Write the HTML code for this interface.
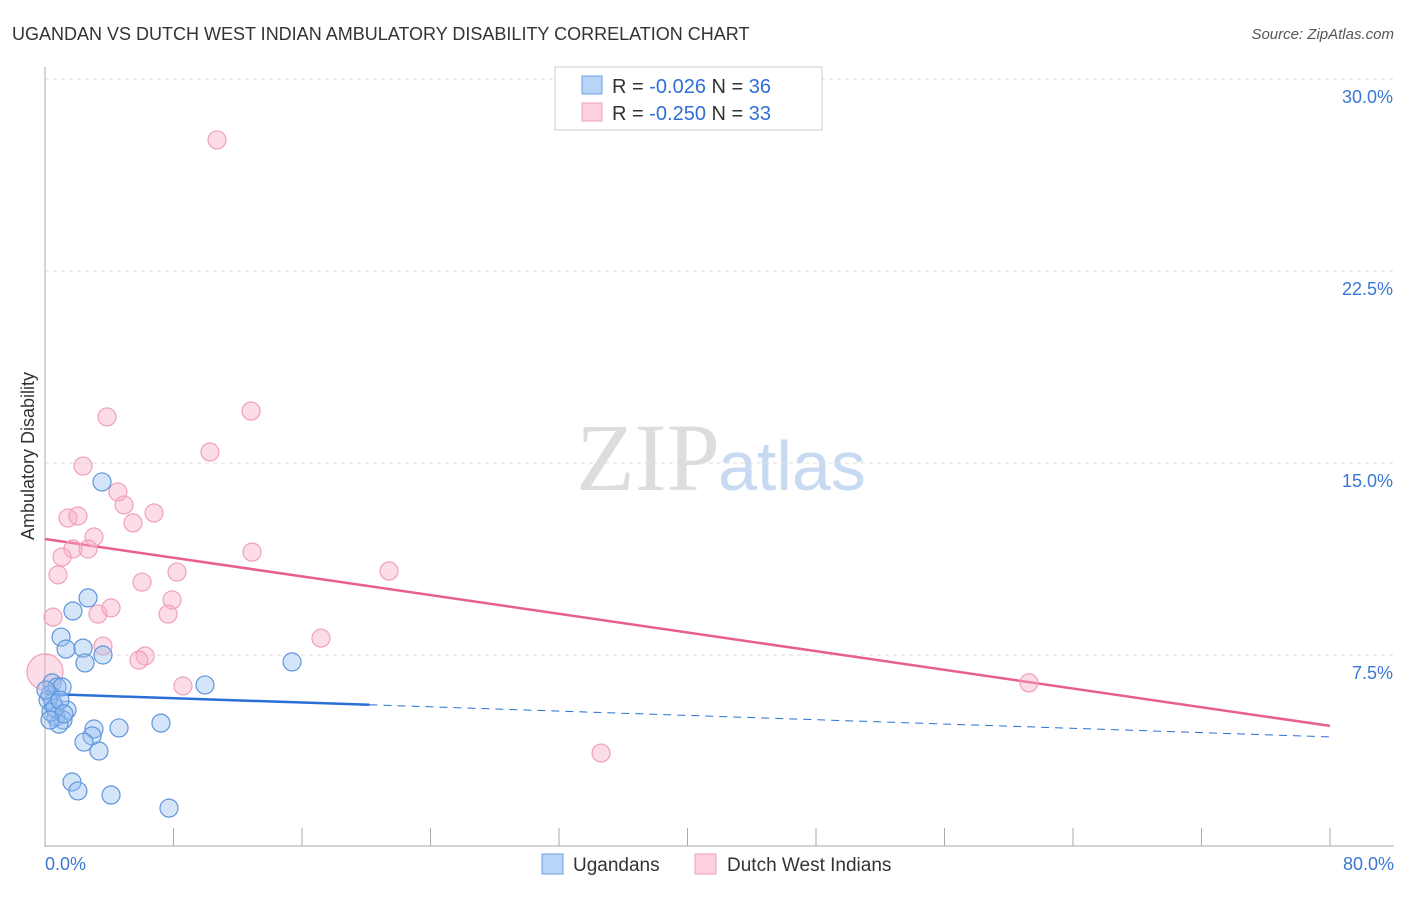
<!DOCTYPE html>
<html><head><meta charset="utf-8"><style>
body{margin:0;background:#fff;font-family:"Liberation Sans",sans-serif}
svg text{font-family:"Liberation Sans",sans-serif}
</style></head><body>
<svg id="chart" width="1406" height="892">
<text x="12" y="40" font-size="18" fill="#333">UGANDAN VS DUTCH WEST INDIAN AMBULATORY DISABILITY CORRELATION CHART</text>
<text x="1394" y="39" font-size="15" fill="#555" font-style="italic" text-anchor="end">Source: ZipAtlas.com</text>
<text x="720" y="490" font-size="96" fill="#ddd" text-anchor="end" font-family="Liberation Serif" style="font-family:'Liberation Serif',serif">ZIP</text>
<text x="718" y="490" font-size="70" fill="#c8daf2">atlas</text>
<g id="grid"></g><g id="axes"></g><g id="lines"></g><g id="points"></g>
<text transform="translate(34,456) rotate(-90)" font-size="18" fill="#333" text-anchor="middle">Ambulatory Disability</text>
<g>
<rect x="555" y="67" width="267" height="63" fill="#fff" stroke="#ccc"/>
<rect x="582" y="76" width="20" height="18" fill="#b8d4f6" stroke="#6a9fe0"/>
<rect x="582" y="103" width="20" height="18" fill="#fcd0dc" stroke="#f0a0b8"/>
<text x="612" y="93" font-size="20" fill="#333">R = <tspan fill="#2f6fd6">-0.026</tspan>   N = <tspan fill="#2f6fd6">36</tspan></text>
<text x="612" y="120" font-size="20" fill="#333">R = <tspan fill="#2f6fd6">-0.250</tspan>   N = <tspan fill="#2f6fd6">33</tspan></text>
</g>
<g>
<rect x="542" y="854" width="21" height="20" fill="#b8d4f6" stroke="#6a9fe0"/>
<text x="573" y="871" font-size="19" fill="#333">Ugandans</text>
<rect x="695" y="854" width="21" height="20" fill="#fcd0dc" stroke="#f0a0b8"/>
<text x="727" y="871" font-size="19" fill="#333">Dutch West Indians</text>
</g>
</svg>
<script>
const yTicks=[7.5,15,22.5,30];
const yTickLabels=["7.5%","15.0%","22.5%","30.0%"];
const xTickLabels=["0.0%","80.0%"];
const ugX=[3.55,2.68,1.74,1.00,1.31,2.37,2.49,3.61,9.96,15.38,0.44,0.75,1.06,0.31,0.50,0.19,1.37,0.68,1.12,0.87,0.37,3.05,4.61,7.22,2.93,2.43,3.36,1.68,2.05,4.11,7.72,0.06,0.62,0.93,1.18,0.31];
const ugY=[14.26,9.73,9.22,8.20,7.73,7.77,7.19,7.50,6.33,7.23,6.41,6.25,6.25,5.94,5.63,5.74,5.35,5.08,4.96,4.80,5.27,4.61,4.65,4.84,4.34,4.10,3.75,2.54,2.19,2.03,1.52,6.13,5.43,5.74,5.20,4.96];
const dwX=[10.71,3.86,12.83,10.27,2.37,4.54,4.92,5.48,6.79,1.43,2.05,3.05,1.74,2.68,1.06,0.81,6.04,8.22,12.89,21.42,0.50,3.30,4.11,7.91,7.66,17.18,3.61,6.23,5.85,8.59,61.26,34.62,0.0];
const dwY=[27.62,16.80,17.03,15.43,14.88,13.87,13.36,12.66,13.05,12.85,12.93,12.11,11.64,11.64,11.33,10.63,10.35,10.74,11.52,10.78,8.98,9.10,9.34,9.65,9.10,8.16,7.85,7.46,7.30,6.29,6.41,3.67,6.84];
const ugTrend=[5.98,4.30];
const dwTrend=[12.03,4.73];
const ugSolidEnd=20.2;
const NS="http://www.w3.org/2000/svg";
const X=v=>45+v/80*1285, Y=v=>847-v/7.5*192;
function mk(tag,attrs,parent){const e=document.createElementNS(NS,tag);for(const k in attrs)e.setAttribute(k,attrs[k]);document.getElementById(parent).appendChild(e);return e;}
yTicks.forEach((t,i)=>{
 const l=mk('line',{x1:45,x2:1394,y1:Y(t),y2:Y(t),stroke:'#ddd','stroke-dasharray':'4,4'},'grid');
 
 
 const tx=mk('text',{x:1393,y:Y(t)+24,'font-size':18,fill:'#3a78d4','text-anchor':'end'},'grid');
 tx.textContent=yTickLabels[i];
 
 
});
const ya=mk('line',{x1:45,x2:45,y1:67,y2:847,stroke:'#aaa'},'axes');


const xa=mk('line',{x1:45,x2:1394,y1:846,y2:846,stroke:'#aaa'},'axes');


for(let i=0;i<=10;i++){const v=i*8;
 const t=mk('line',{x1:X(v),x2:X(v),y1:828,y2:846,stroke:'#aaa'},'axes');
 
 }
[[0,'start',45],[80,'end',1394]].forEach((d,i)=>{
 const t=mk('text',{x:d[2],y:870,'font-size':18,fill:'#3a78d4','text-anchor':d[1]},'axes');
 t.textContent=xTickLabels[i];
 
 });
const ln=(a,x)=>a[0]+(a[1]-a[0])*x/80;
let l1=mk('line',{x1:X(0),y1:Y(ln(dwTrend,0)),x2:X(80),y2:Y(ln(dwTrend,80)),stroke:'#e8608a','stroke-width':2.5},'lines');


let l2=mk('line',{x1:X(0),y1:Y(ln(ugTrend,0)),x2:X(ugSolidEnd),y2:Y(ln(ugTrend,ugSolidEnd)),stroke:'#2a6fd6','stroke-width':2.5},'lines');


let l3=mk('line',{x1:X(ugSolidEnd),y1:Y(ln(ugTrend,ugSolidEnd)),x2:X(80),y2:Y(ln(ugTrend,80)),stroke:'#2a6fd6','stroke-width':1,'stroke-dasharray':'8,6'},'lines');


dwX.forEach((x,i)=>{
 const c=mk('circle',{cx:X(x),cy:Y(dwY[i]),r:i===dwX.length-1?18:9,fill:'rgba(248,170,195,0.4)',stroke:'#f0a0b8','stroke-width':1.2},'points');
 
 });
ugX.forEach((x,i)=>{
 const c=mk('circle',{cx:X(x),cy:Y(ugY[i]),r:9,fill:'rgba(150,190,240,0.4)',stroke:'#5f95dc','stroke-width':1.2},'points');
 
 });
</script>
</body></html>
